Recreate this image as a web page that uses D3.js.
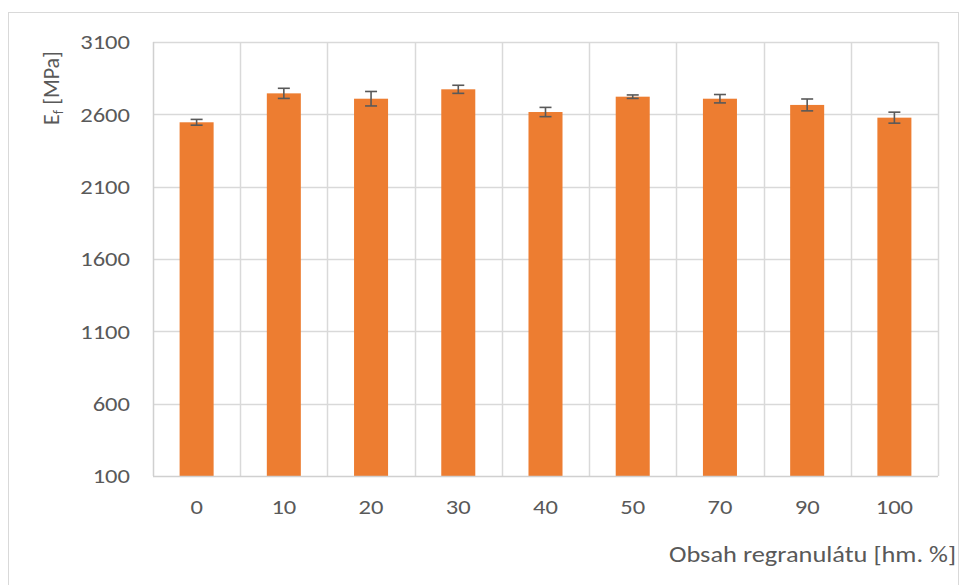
<!DOCTYPE html>
<html>
<head>
<meta charset="utf-8">
<script src="https://cdn.jsdelivr.net/npm/d3@7"></script>
<style>
  html, body { margin: 0; padding: 0; background: #fff; }
  svg text { font-family: "Carlito", "Lato", "Open Sans", sans-serif; fill: #595959; }
</style>
</head>
<body>
<svg id="chart" width="959" height="585"></svg>
<script>
// Flexural modulus vs. regrind content
const categories = ["0", "10", "20", "30", "40", "50", "70", "90", "100"];
const modulus = [2545, 2745, 2708, 2773, 2616, 2722, 2708, 2665, 2577];
const modulusErr = [20, 35, 50, 28, 32, 12, 29, 41, 38];
const yTicks = [100, 600, 1100, 1600, 2100, 2600, 3100];

const svg = d3.select("#chart");
const W = 959, H = 585;
const plot = { left: 153, right: 938, top: 42, bottom: 476 };
const FS = 21;       // label font size
const SX = 1.17;     // horizontal widening of labels

// chart frame
svg.append("rect")
  .attr("x", 8.5).attr("y", 12.5)
  .attr("width", W - 9).attr("height", H - 12)
  .attr("fill", "none").attr("stroke", "#d9d9d9").attr("stroke-width", 1);

const x = d3.scaleBand().domain(categories).range([plot.left, plot.right]).paddingInner(0).paddingOuter(0);
const y = d3.scaleLinear().domain([100, 3100]).range([plot.bottom, plot.top]);

// horizontal gridlines
svg.append("g").selectAll("line").data(yTicks.slice(1)).join("line")
  .attr("x1", plot.left).attr("x2", plot.right)
  .attr("y1", d => Math.round(y(d)) + 0.5).attr("y2", d => Math.round(y(d)) + 0.5)
  .attr("stroke", "#d9d9d9").attr("stroke-width", 1.5);

// vertical gridlines at category boundaries
const bounds = categories.map(c => x(c) + x.bandwidth());
svg.append("g").selectAll("line").data(bounds).join("line")
  .attr("x1", d => Math.round(d) + 0.5).attr("x2", d => Math.round(d) + 0.5)
  .attr("y1", plot.top).attr("y2", plot.bottom)
  .attr("stroke", "#d9d9d9").attr("stroke-width", 1.5);

// bars
const barW = x.bandwidth() * 0.39;
svg.append("g").selectAll("rect").data(categories).join("rect")
  .attr("x", (c) => x(c) + (x.bandwidth() - barW) / 2)
  .attr("width", barW)
  .attr("y", (c, i) => y(modulus[i]))
  .attr("height", (c, i) => y(100) - y(modulus[i]))
  .attr("fill", "#ED7D31");

// axis lines
svg.append("line")
  .attr("x1", plot.left + 0.5).attr("x2", plot.left + 0.5)
  .attr("y1", plot.top).attr("y2", plot.bottom)
  .attr("stroke", "#d0d0d0").attr("stroke-width", 1.5);
svg.append("line")
  .attr("x1", plot.left).attr("x2", plot.right)
  .attr("y1", plot.bottom + 0.5).attr("y2", plot.bottom + 0.5)
  .attr("stroke", "#d0d0d0").attr("stroke-width", 1.5);

// error bars
const eb = svg.append("g").attr("stroke", "#595959").attr("stroke-width", 1.6);
categories.forEach((c, i) => {
  const cx = x(c) + x.bandwidth() / 2;
  const y1 = y(modulus[i] + modulusErr[i]);
  const y2 = y(modulus[i] - modulusErr[i]);
  eb.append("line").attr("x1", cx).attr("x2", cx).attr("y1", y1).attr("y2", y2);
  eb.append("line").attr("x1", cx - 6).attr("x2", cx + 6).attr("y1", y1).attr("y2", y1);
  eb.append("line").attr("x1", cx - 6).attr("x2", cx + 6).attr("y1", y2).attr("y2", y2);
});

// y tick labels
svg.append("g").selectAll("text").data(yTicks).join("text")
  .attr("transform", d => `translate(130,${y(d)}) scale(${SX},1)`)
  .attr("dy", "0.35em")
  .attr("text-anchor", "end")
  .attr("font-size", FS)
  .text(d => d);

// x tick labels
svg.append("g").selectAll("text").data(categories).join("text")
  .attr("transform", c => `translate(${x(c) + x.bandwidth() / 2},507) scale(${SX},1)`)
  .attr("dy", "0.35em")
  .attr("text-anchor", "middle")
  .attr("font-size", FS)
  .text(c => c);

// axis titles
const yt = svg.append("text")
  .attr("transform", "translate(59,88) rotate(-90)")
  .attr("text-anchor", "middle")
  .attr("font-size", 22);
yt.append("tspan").text("E");
yt.append("tspan").attr("font-size", 14).attr("dy", 4).text("f");
yt.append("tspan").attr("dy", -4).text(" [MPa]");

svg.append("text")
  .attr("transform", `translate(956,554) scale(1.2,1)`)
  .attr("dy", "0.35em")
  .attr("text-anchor", "end")
  .attr("font-size", 22)
  .text("Obsah regranulátu [hm. %]");
</script>
</body>
</html>
